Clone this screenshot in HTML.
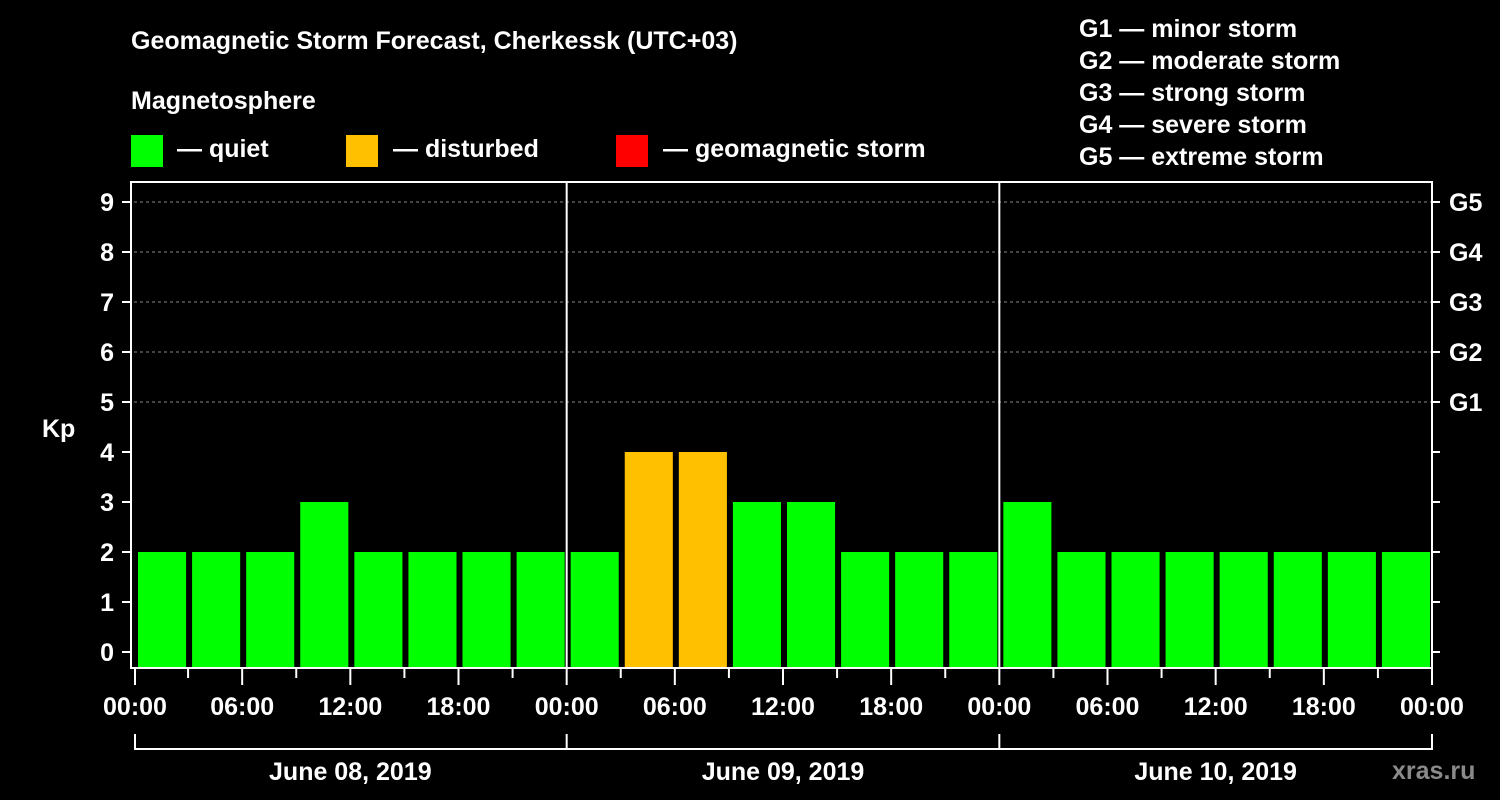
<!DOCTYPE html>
<html><head><meta charset="utf-8"><style>
html,body{margin:0;padding:0;background:#000;width:1500px;height:800px;overflow:hidden}
svg text{font-family:"Liberation Sans",sans-serif;font-weight:bold;fill:#fff}
</style></head><body>
<svg id="chart" width="1500" height="800" xmlns="http://www.w3.org/2000/svg">
<text x="131" y="49" font-size="25">Geomagnetic Storm Forecast, Cherkessk (UTC+03)</text>
<text x="131" y="109" font-size="25">Magnetosphere</text>
<rect x="131" y="135" width="32" height="32" fill="#00ff00"/>
<text x="177" y="157" font-size="25">— quiet</text>
<rect x="346" y="135" width="32" height="32" fill="#ffc000"/>
<text x="393" y="157" font-size="25">— disturbed</text>
<rect x="616" y="135" width="32" height="32" fill="#ff0000"/>
<text x="663" y="157" font-size="25">— geomagnetic storm</text>
<g font-size="25">
<text x="1079" y="37">G1 — minor storm</text>
<text x="1079" y="69">G2 — moderate storm</text>
<text x="1079" y="101">G3 — strong storm</text>
<text x="1079" y="133">G4 — severe storm</text>
<text x="1079" y="165">G5 — extreme storm</text>
</g>
<text x="42" y="437" font-size="25">Kp</text>
<text x="1392" y="779" font-size="25" fill="#888" style="fill:#8a8a8a">xras.ru</text>
<g id="plot"></g>
</svg>
<script>
const kpValues=[2,2,2,3,2,2,2,2, 2,4,4,3,3,2,2,2, 3,2,2,2,2,2,2,2];
const dayLabels=["June 08, 2019","June 09, 2019","June 10, 2019"];
const hourLabels=["00:00","06:00","12:00","18:00"];
const gLabels=["G1","G2","G3","G4","G5"];
const NS="http://www.w3.org/2000/svg";
const g=document.getElementById('plot');
const X0=134,X1=1432,TOP=182,BOT=668;
const slot=(X1-X0)/kpValues.length;
const yS=v=>652-v*50;
const xS=i=>X0+i*slot;
function mk(t,a,p){const e=document.createElementNS(NS,t);for(const k in a)e.setAttribute(k,a[k]);(p||g).appendChild(e);return e;}
// gridlines
for(let v=5;v<=9;v++){
 const l=mk('line',{x1:X0,x2:X1,y1:yS(v),y2:yS(v),stroke:'#888','stroke-dasharray':'3,3','stroke-width':1});
 
 
}
// bars
kpValues.forEach((v,i)=>{
 const c=v>=5?'#ff0000':(v>=4?'#ffc000':'#00ff00');
 const r=mk('rect',{x:xS(i)+4,y:yS(v),width:slot-6,height:BOT-yS(v),fill:c});
 
 
});
// day separators
for(let d=1;d<dayLabels.length;d++){
 const x=X0+d*(X1-X0)/dayLabels.length;
 const l=mk('line',{x1:x,x2:x,y1:TOP,y2:BOT,stroke:'#fff','stroke-width':2});
 
 
}
// frame
const f=mk('rect',{x:X0-3,y:TOP,width:X1-X0+3,height:BOT-TOP,fill:'none',stroke:'#fff','stroke-width':2});


// y ticks
for(let v=0;v<=9;v++){
 mk('line',{x1:122,x2:130,y1:yS(v),y2:yS(v),stroke:'#fff','stroke-width':2});
 mk('line',{x1:X1,x2:X1+8,y1:yS(v),y2:yS(v),stroke:'#fff','stroke-width':2});
 const t=mk('text',{x:114,y:yS(v)+9,'font-size':25,'text-anchor':'end'});t.textContent=v;
 
 
 if(v>=5){const gt=mk('text',{x:1449,y:yS(v)+9,'font-size':25});gt.textContent=gLabels[v-5];
 
 }
}
// x ticks
for(let i=0;i<=kpValues.length;i++){
 const x=xS(i)+(i===0?1:0);
 const major=i%2===0;
 mk('line',{x1:x,x2:x,y1:BOT,y2:major?685:678,stroke:'#fff','stroke-width':2});
 if(major){
  const t=mk('text',{x:x,y:715,'font-size':25,'text-anchor':'middle'});
  t.textContent=hourLabels[(i/2)%4];
  
  
 }
}
// day brackets
const dw=(X1-X0)/dayLabels.length;
mk('line',{x1:X0+1,x2:X1,y1:749,y2:749,stroke:'#fff','stroke-width':2});
for(let d=0;d<=dayLabels.length;d++){
 const x=X0+d*dw+(d===0?1:0);
 mk('line',{x1:x,x2:x,y1:734,y2:750,stroke:'#fff','stroke-width':2});
}
dayLabels.forEach((s,d)=>{
 const t=mk('text',{x:X0+d*dw+dw/2,y:780,'font-size':25,'text-anchor':'middle'});t.textContent=s;
 
 
});
</script>
</body></html>
